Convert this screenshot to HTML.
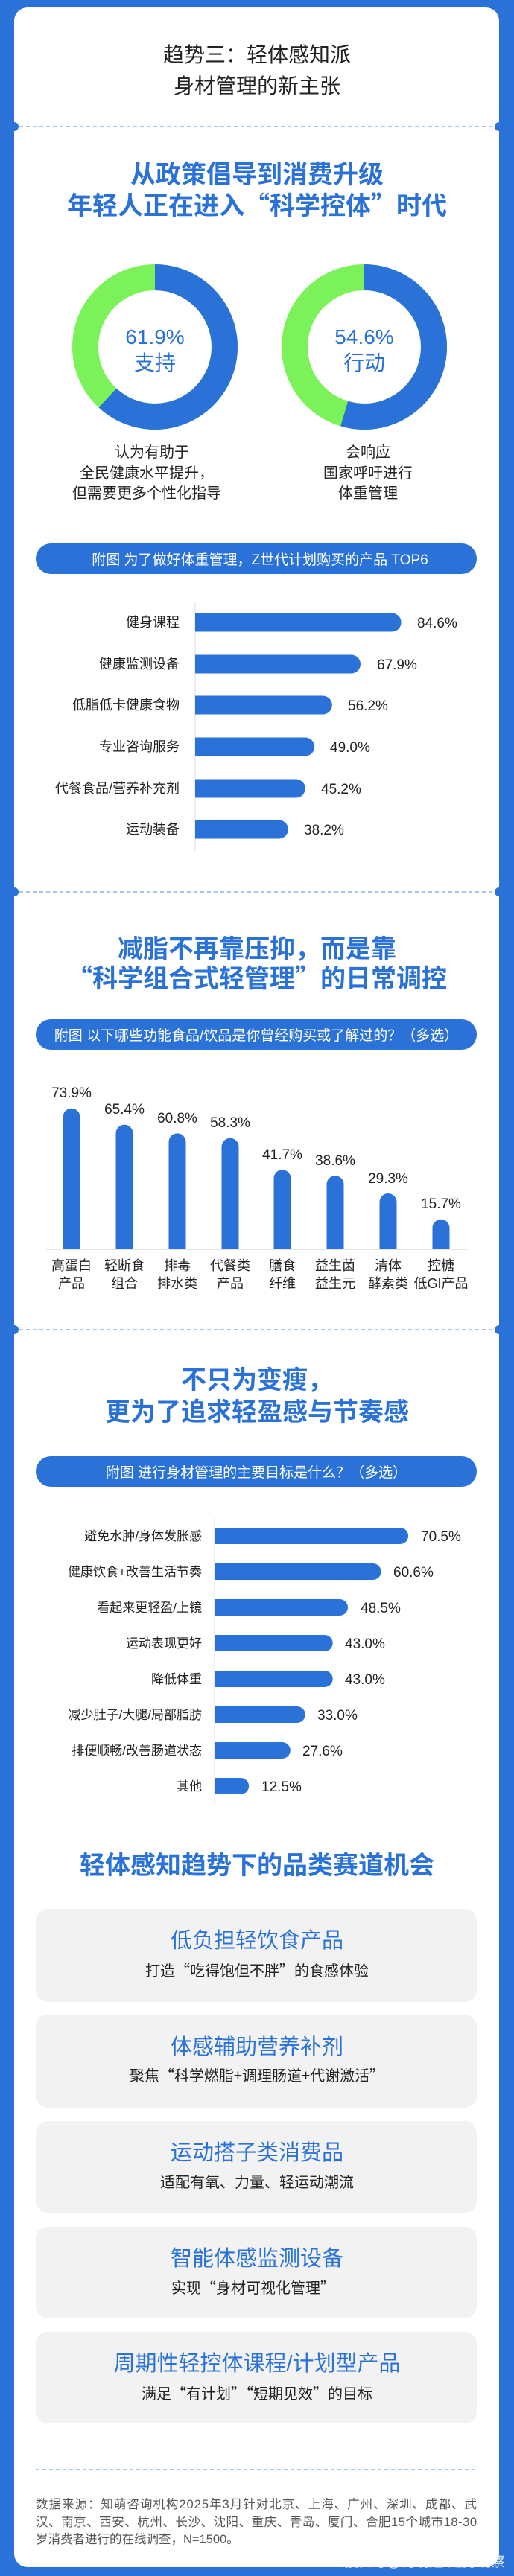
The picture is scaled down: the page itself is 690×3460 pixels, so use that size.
<!DOCTYPE html>
<html><head><meta charset="utf-8"><style>
html,body{margin:0;padding:0;background:#2a72d8;}
svg{display:block;}
text{font-family:"Liberation Sans","Noto Sans CJK SC",sans-serif;}
text.cj{font-family:"Noto Sans CJK SC",sans-serif;}
</style></head><body>
<svg width="690" height="3460" viewBox="0 0 690 3460" xmlns="http://www.w3.org/2000/svg">
<rect x="0" y="0" width="690" height="3460" fill="#2a72d8"/>
<rect x="19" y="10" width="651" height="3438" rx="18" fill="#ffffff"/>

<text x="345" y="83" font-size="28" fill="#222" text-anchor="middle">趋势三：轻体感知派</text>
<text x="345" y="125" font-size="28" fill="#222" text-anchor="middle">身材管理的新主张</text>

<g stroke="#8ab4ea" stroke-width="1.5" stroke-dasharray="5,4">
<line x1="26" y1="170" x2="664" y2="170"/>
<line x1="26" y1="1198" x2="664" y2="1198"/>
<line x1="26" y1="1786" x2="664" y2="1786"/>
<line x1="48" y1="3317" x2="640" y2="3317"/>
</g>
<g fill="#2a72d8">
<circle cx="19" cy="170" r="6"/><circle cx="670" cy="170" r="6"/>
<circle cx="19" cy="1198" r="6"/><circle cx="670" cy="1198" r="6"/>
<circle cx="19" cy="1786" r="6"/><circle cx="670" cy="1786" r="6"/>
</g>

<text x="345" y="246" font-size="34" font-weight="bold" fill="#2a72d8" text-anchor="middle">从政策倡导到消费升级</text>
<text class="cj" x="345" y="288" font-size="34" font-weight="bold" fill="#2a72d8" text-anchor="middle">年轻人正在进入“科学控体”时代</text>

<g transform="translate(208,466) rotate(-90)">
<circle r="93.5" fill="none" stroke="#7cf25a" stroke-width="35"/>
<circle r="93.5" fill="none" stroke="#2a72d8" stroke-width="35" stroke-dasharray="363.6 1000"/>
</g>
<g transform="translate(489,466) rotate(-90)">
<circle r="93.5" fill="none" stroke="#7cf25a" stroke-width="35"/>
<circle r="93.5" fill="none" stroke="#2a72d8" stroke-width="35" stroke-dasharray="320.8 1000"/>
</g>
<text x="208" y="462" font-size="28" fill="#2a72d8" text-anchor="middle">61.9%</text>
<text x="208" y="497" font-size="28" fill="#2a72d8" text-anchor="middle">支持</text>
<text x="489" y="462" font-size="28" fill="#2a72d8" text-anchor="middle">54.6%</text>
<text x="489" y="497" font-size="28" fill="#2a72d8" text-anchor="middle">行动</text>
<g font-size="20" fill="#222" text-anchor="middle">
<text x="204" y="614">认为有助于</text>
<text x="197" y="642">全民健康水平提升，</text>
<text x="197" y="669">但需要更多个性化指导</text>
<text x="494" y="614">会响应</text>
<text x="494" y="642">国家呼吁进行</text>
<text x="494" y="669">体重管理</text>
</g>

<rect x="48" y="730" width="592" height="41" rx="20.5" fill="#2a72d8"/>
<text x="349" y="758" font-size="19" fill="#fff" text-anchor="middle">附图 为了做好体重管理，Z世代计划购买的产品 TOP6</text>
<line x1="262" y1="808" x2="262" y2="1143" stroke="#ddd" stroke-width="1"/>
<g fill="#2a72d8">
<rect x="262" y="823.5" width="276.6" height="25" rx="12.5"/><rect x="262" y="823.5" width="20" height="25"/>
<rect x="262" y="879.5" width="222" height="25" rx="12.5"/><rect x="262" y="879.5" width="20" height="25"/>
<rect x="262" y="934.5" width="183.8" height="25" rx="12.5"/><rect x="262" y="934.5" width="20" height="25"/>
<rect x="262" y="990.5" width="160.2" height="25" rx="12.5"/><rect x="262" y="990.5" width="20" height="25"/>
<rect x="262" y="1046.5" width="147.8" height="25" rx="12.5"/><rect x="262" y="1046.5" width="20" height="25"/>
<rect x="262" y="1101.5" width="124.9" height="25" rx="12.5"/><rect x="262" y="1101.5" width="20" height="25"/>
</g>
<g font-size="18" fill="#222" text-anchor="end">
<text x="241" y="842">健身课程</text>
<text x="241" y="898">健康监测设备</text>
<text x="241" y="953">低脂低卡健康食物</text>
<text x="241" y="1009">专业咨询服务</text>
<text x="241" y="1065">代餐食品/营养补充剂</text>
<text x="241" y="1120">运动装备</text>
</g>
<g font-size="19" fill="#222">
<text x="560" y="843">84.6%</text>
<text x="506" y="899">67.9%</text>
<text x="467" y="954">56.2%</text>
<text x="443" y="1010">49.0%</text>
<text x="431" y="1066">45.2%</text>
<text x="408" y="1121">38.2%</text>
</g>

<text class="cj" x="345" y="1286" font-size="34" font-weight="bold" fill="#2a72d8" text-anchor="middle">减脂不再靠压抑，而是靠</text>
<text class="cj" x="345" y="1326" font-size="34" font-weight="bold" fill="#2a72d8" text-anchor="middle">“科学组合式轻管理”的日常调控</text>
<rect x="48" y="1369" width="592" height="41" rx="20.5" fill="#2a72d8"/>
<text x="344" y="1397" font-size="19" fill="#fff" text-anchor="middle">附图 以下哪些功能食品/饮品是你曾经购买或了解过的？（多选）</text>
<line x1="62" y1="1678" x2="628" y2="1678" stroke="#ddd" stroke-width="1.5"/>
<g fill="#2a72d8">
<rect x="84.5" y="1488.8" width="23" height="189.2" rx="11.5"/><rect x="84.5" y="1520" width="23" height="158"/>
<rect x="155.5" y="1510.6" width="23" height="167.4" rx="11.5"/><rect x="155.5" y="1540" width="23" height="138"/>
<rect x="226.5" y="1522.4" width="23" height="155.6" rx="11.5"/><rect x="226.5" y="1550" width="23" height="128"/>
<rect x="297.5" y="1528.8" width="23" height="149.2" rx="11.5"/><rect x="297.5" y="1560" width="23" height="118"/>
<rect x="367.5" y="1571.2" width="23" height="106.8" rx="11.5"/><rect x="367.5" y="1600" width="23" height="78"/>
<rect x="438.5" y="1579.2" width="23" height="98.8" rx="11.5"/><rect x="438.5" y="1610" width="23" height="68"/>
<rect x="509.5" y="1603" width="23" height="75" rx="11.5"/><rect x="509.5" y="1630" width="23" height="48"/>
<rect x="580.5" y="1637.8" width="23" height="40.2" rx="11.5"/><rect x="580.5" y="1655" width="23" height="23"/>
</g>
<g font-size="19" fill="#222" text-anchor="middle">
<text x="96" y="1474">73.9%</text>
<text x="167" y="1496">65.4%</text>
<text x="238" y="1508">60.8%</text>
<text x="309" y="1514">58.3%</text>
<text x="379" y="1557">41.7%</text>
<text x="450" y="1565">38.6%</text>
<text x="521" y="1589">29.3%</text>
<text x="592" y="1623">15.7%</text>
</g>
<g font-size="18" fill="#222" text-anchor="middle">
<text x="96" y="1706">高蛋白</text><text x="96" y="1730">产品</text>
<text x="167" y="1706">轻断食</text><text x="167" y="1730">组合</text>
<text x="238" y="1706">排毒</text><text x="238" y="1730">排水类</text>
<text x="309" y="1706">代餐类</text><text x="309" y="1730">产品</text>
<text x="379" y="1706">膳食</text><text x="379" y="1730">纤维</text>
<text x="450" y="1706">益生菌</text><text x="450" y="1730">益生元</text>
<text x="521" y="1706">清体</text><text x="521" y="1730">酵素类</text>
<text x="592" y="1706">控糖</text><text x="592" y="1730">低GI产品</text>
</g>

<text class="cj" x="345" y="1865" font-size="34" font-weight="bold" fill="#2a72d8" text-anchor="middle">不只为变瘦，</text>
<text x="345" y="1908" font-size="34" font-weight="bold" fill="#2a72d8" text-anchor="middle">更为了追求轻盈感与节奏感</text>
<rect x="48" y="1956" width="592" height="41" rx="20.5" fill="#2a72d8"/>
<text x="344" y="1984" font-size="19" fill="#fff" text-anchor="middle">附图 进行身材管理的主要目标是什么？（多选）</text>
<line x1="288" y1="2039" x2="288" y2="2423" stroke="#ddd" stroke-width="1"/>
<g fill="#2a72d8">
<rect x="288" y="2052" width="260.1" height="22" rx="11"/><rect x="288" y="2052" width="20" height="22"/>
<rect x="288" y="2100" width="223.6" height="22" rx="11"/><rect x="288" y="2100" width="20" height="22"/>
<rect x="288" y="2148" width="179" height="22" rx="11"/><rect x="288" y="2148" width="20" height="22"/>
<rect x="288" y="2196" width="158.7" height="22" rx="11"/><rect x="288" y="2196" width="20" height="22"/>
<rect x="288" y="2244" width="158.7" height="22" rx="11"/><rect x="288" y="2244" width="20" height="22"/>
<rect x="288" y="2292" width="121.8" height="22" rx="11"/><rect x="288" y="2292" width="20" height="22"/>
<rect x="288" y="2340" width="101.8" height="22" rx="11"/><rect x="288" y="2340" width="20" height="22"/>
<rect x="288" y="2388" width="46.1" height="22" rx="11"/><rect x="288" y="2388" width="20" height="22"/>
</g>
<g font-size="17" fill="#222" text-anchor="end">
<text x="271" y="2069">避免水肿/身体发胀感</text>
<text x="271" y="2117">健康饮食+改善生活节奏</text>
<text x="271" y="2165">看起来更轻盈/上镜</text>
<text x="271" y="2213">运动表现更好</text>
<text x="271" y="2261">降低体重</text>
<text x="271" y="2309">减少肚子/大腿/局部脂肪</text>
<text x="271" y="2357">排便顺畅/改善肠道状态</text>
<text x="271" y="2405">其他</text>
</g>
<g font-size="19" fill="#222">
<text x="565" y="2070">70.5%</text>
<text x="528" y="2118">60.6%</text>
<text x="484" y="2166">48.5%</text>
<text x="463" y="2214">43.0%</text>
<text x="463" y="2262">43.0%</text>
<text x="426" y="2310">33.0%</text>
<text x="406" y="2358">27.6%</text>
<text x="351" y="2406">12.5%</text>
</g>

<text x="345" y="2517" font-size="34" font-weight="bold" fill="#2a72d8" text-anchor="middle">轻体感知趋势下的品类赛道机会</text>
<g fill="#f2f2f2">
<rect x="48" y="2564" width="592" height="125" rx="16"/>
<rect x="48" y="2706" width="592" height="125" rx="16"/>
<rect x="48" y="2849" width="592" height="123" rx="16"/>
<rect x="48" y="2991" width="592" height="123" rx="16"/>
<rect x="48" y="3132" width="592" height="123" rx="16"/>
</g>
<g font-size="29" fill="#2a72d8" text-anchor="middle">
<text x="345" y="2616">低负担轻饮食产品</text>
<text x="345" y="2759">体感辅助营养补剂</text>
<text x="345" y="2901">运动搭子类消费品</text>
<text x="345" y="3043">智能体感监测设备</text>
<text x="345" y="3184">周期性轻控体课程/计划型产品</text>
</g>
<g font-size="20" fill="#222" text-anchor="middle">
<text class="cj" x="345" y="2654">打造“吃得饱但不胖”的食感体验</text>
<text class="cj" x="345" y="2795">聚焦“科学燃脂+调理肠道+代谢激活”</text>
<text x="345" y="2938">适配有氧、力量、轻运动潮流</text>
<text class="cj" x="340" y="3080">实现“身材可视化管理”</text>
<text class="cj" x="345" y="3222">满足“有计划”“短期见效”的目标</text>
</g>

<g font-size="16.5" fill="#555">
<text x="48" y="3369" textLength="592" lengthAdjust="spacing">数据来源：知萌咨询机构2025年3月针对北京、上海、广州、深圳、成都、武</text>
<text x="48" y="3393" textLength="592" lengthAdjust="spacing">汉、南京、西安、杭州、长沙、沈阳、重庆、青岛、厦门、合肥15个城市18-30</text>
<text x="48" y="3416">岁消费者进行的在线调查，N=1500。</text>
</g>
<text x="678" y="3447" font-size="19" fill="#ffffff" fill-opacity="0.85" text-anchor="end">搜狐号@肖明超-趋势观察</text>
</svg>
</body></html>
